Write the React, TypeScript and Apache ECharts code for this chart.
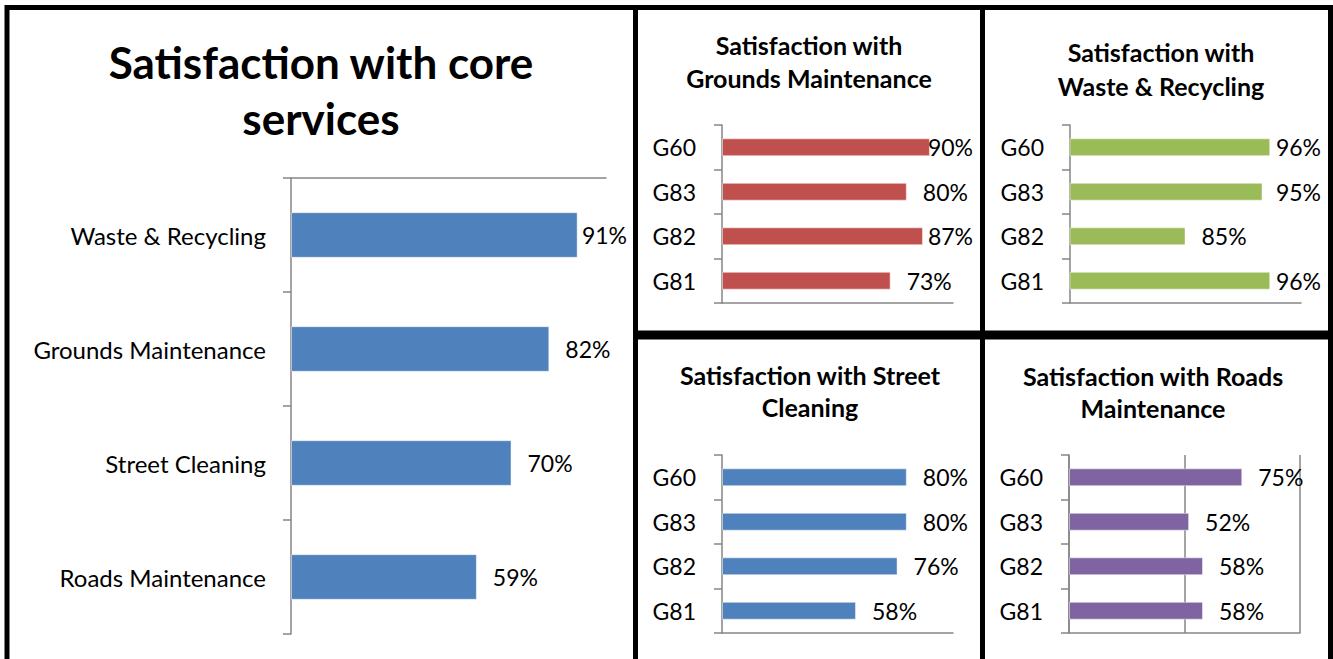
import React, { useEffect, useRef } from 'react';
import * as echarts from 'echarts';

const mainCategories = ['Waste & Recycling', 'Grounds Maintenance', 'Street Cleaning', 'Roads Maintenance'];
const mainValues = [91, 82, 70, 59];
const wardCategories = ['G60', 'G83', 'G82', 'G81'];
const groundsValues = [90, 80, 87, 73];
const wasteValues = [96, 95, 85, 96];
const streetValues = [80, 80, 76, 58];
const roadsValues = [75, 52, 58, 58];

const mainTitle = 'Satisfaction with core\nservices';
const groundsTitle = 'Satisfaction with\nGrounds Maintenance';
const wasteTitle = 'Satisfaction with\nWaste & Recycling';
const streetTitle = 'Satisfaction with Street\nCleaning';
const roadsTitle = 'Satisfaction with Roads\nMaintenance';

const FONT = 'Lato, "Open Sans", sans-serif';
const AXIS = '#868686';
const LABEL_SIZE = 23;
const LABEL_GAP = 16;

function measure(text: string, size: number) {
  const c = document.createElement('canvas').getContext('2d');
  if (!c) return text.length * size * 0.55;
  c.font = `normal ${size}px Lato`;
  return c.measureText(text).width;
}

type Panel = {
  cats: string[]; values: number[]; color: string;
  left: number; top: number; width: number; height: number;
  min: number; max: number; xPos: 'top' | 'bottom';
  labelLimit: number; margin: number; split: boolean; catSize: number;
};

const panels: Panel[] = [
  { cats: mainCategories, values: mainValues, color: '#4F81BD', left: 291, top: 178, width: 315, height: 456, min: 0, max: 100, xPos: 'top', labelLimit: 627, margin: 25, split: false, catSize: 24 },
  { cats: wardCategories, values: groundsValues, color: '#C0504D', left: 722, top: 125, width: 231, height: 178, min: 0, max: 100, xPos: 'bottom', labelLimit: 973, margin: 26, split: false, catSize: 23 },
  { cats: wardCategories, values: wasteValues, color: '#9BBB59', left: 1070, top: 125, width: 231, height: 178, min: 70, max: 100, xPos: 'bottom', labelLimit: 1321, margin: 26, split: false, catSize: 23 },
  { cats: wardCategories, values: streetValues, color: '#4F81BD', left: 722, top: 455, width: 231, height: 178, min: 0, max: 100, xPos: 'bottom', labelLimit: 973, margin: 26, split: false, catSize: 23 },
  { cats: wardCategories, values: roadsValues, color: '#8064A2', left: 1069, top: 455, width: 231, height: 178, min: 0, max: 100, xPos: 'bottom', labelLimit: 1321, margin: 26, split: true, catSize: 23 },
];

const titles = [
  { text: mainTitle, x: 321, y: 90, size: 44, lh: 56 },
  { text: groundsTitle, x: 809, y: 61.5, size: 25, lh: 33 },
  { text: wasteTitle, x: 1161, y: 69, size: 25, lh: 34 },
  { text: streetTitle, x: 810, y: 391, size: 25, lh: 32 },
  { text: roadsTitle, x: 1153, y: 392, size: 25, lh: 32 },
];

const frames = [
  { x: 7, y: 7.5, w: 628.5, h: 720 },
  { x: 635.5, y: 7.5, w: 347, h: 325.5 },
  { x: 982.5, y: 7.5, w: 348, h: 325.5 },
  { x: 635.5, y: 337, w: 347, h: 400 },
  { x: 982.5, y: 337, w: 348, h: 400 },
];

export default function App() {
  const ref = useRef<HTMLDivElement>(null);
  useEffect(() => {
    if (!ref.current) return;
    const chart = echarts.init(ref.current, undefined, { renderer: 'svg' });
    const grid: any[] = [];
    const xAxis: any[] = [];
    const yAxis: any[] = [];
    const series: any[] = [];
    panels.forEach((p, i) => {
      grid.push({ left: p.left, top: p.top, width: p.width, height: p.height, containLabel: false });
      xAxis.push({
        gridIndex: i, type: 'value', min: p.min, max: p.max, position: p.xPos,
        ...(p.split ? { interval: 50 } : {}),
        axisLine: { show: true, lineStyle: { color: AXIS, width: 1.5 } },
        axisTick: { show: false }, axisLabel: { show: false },
        splitLine: { show: p.split, lineStyle: { color: AXIS, width: 1.5 } },
      });
      yAxis.push({
        gridIndex: i, type: 'category', data: p.cats, inverse: true,
        axisLine: { show: true, lineStyle: { color: AXIS, width: 1.5 } },
        axisTick: { show: true, length: 8, lineStyle: { color: AXIS, width: 1.5 } },
        axisLabel: { color: '#000', fontSize: p.catSize, fontFamily: FONT, margin: p.margin },
      });
      series.push({
        type: 'bar', xAxisIndex: i, yAxisIndex: i, barCategoryGap: '60%',
        itemStyle: { color: p.color, borderColor: 'rgba(255,255,255,0.45)', borderWidth: 1 },
        label: { show: true, position: 'right', distance: LABEL_GAP, formatter: '{c}%', color: '#000', fontSize: LABEL_SIZE, fontFamily: FONT },
        data: p.values.map((v) => {
          const end = p.left + ((v - p.min) / (p.max - p.min)) * p.width;
          const w = measure(`${v}%`, LABEL_SIZE);
          const dx = Math.min(0, p.labelLimit - (end + LABEL_GAP + w));
          return { value: v, label: { offset: [dx, 0] } };
        }),
      });
    });
    const graphic: any[] = [];
    frames.forEach((f) => graphic.push({ type: 'rect', shape: { x: f.x, y: f.y, width: f.w, height: f.h }, style: { fill: 'none', stroke: '#000', lineWidth: 5 }, z: 10 }));
    titles.forEach((t) => graphic.push({
      type: 'text', x: t.x, y: t.y,
      style: { text: t.text, fontSize: t.size, fontWeight: 'bold', fontFamily: FONT, fill: '#000', textAlign: 'center', textVerticalAlign: 'middle', lineHeight: t.lh },
    }));
    chart.setOption({ animation: false, backgroundColor: '#fff', grid, xAxis, yAxis, series, graphic });
    return () => chart.dispose();
  }, []);
  return <div ref={ref} style={{ position: 'fixed', left: 0, top: 0, width: 1333, height: 659 }} />;
}
